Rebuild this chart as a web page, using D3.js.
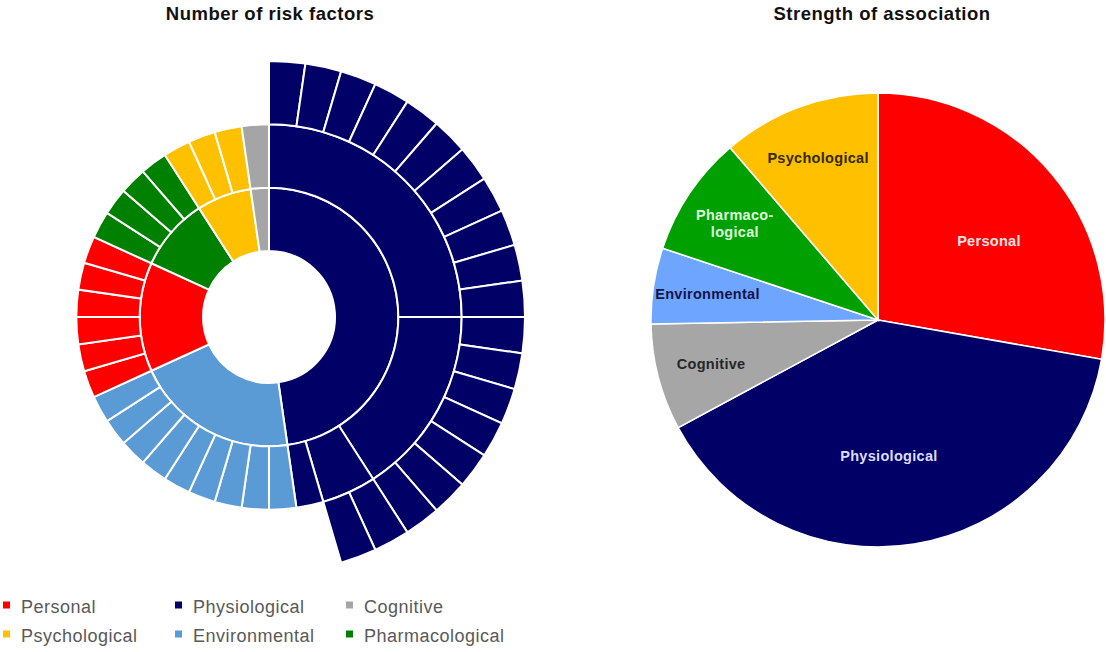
<!DOCTYPE html>
<html>
<head>
<meta charset="utf-8">
<style>
    body { margin: 0; background: #fff; }
    svg { display: block; font-family: Arial, 'Liberation Sans', sans-serif; }
    .title { font-size: 18.5px; font-weight: bold; fill: #111; letter-spacing: 0.5px; }
    .legend text { font-size: 18px; fill: #595959; letter-spacing: 0.5px; }
    .pie-label { font-size: 14.5px; font-weight: bold; letter-spacing: 0.3px; }
</style>
</head>
<body>
<svg width="1106" height="652"></svg>

<script src="https://d3js.org/d3.v7.min.js"></script>
<script>
    // --- data ---
    // sunburst, clockwise from 12 o'clock
    let categories = ["Physiological", "Environmental", "Personal", "Pharmacological", "Psychological", "Cognitive"];
    // sub-groups in the middle ring that break down further (number of factors in the outer ring)
    let subgroupFactors = [[11, 7, 2], [], [], [], [], []];
    // factors sitting directly in the middle ring
    let directFactors = [1, 9, 6, 4, 3, 1];

    // pie, clockwise from 12 o'clock (share of association, %)
    let pieCategories = ["Personal", "Physiological", "Cognitive", "Environmental", "Pharmacological", "Psychological"];
    let pieValues = [27.8, 39.4, 7.6, 5.4, 8.6, 11.3];
    let pieLabelLines = [["Personal"], ["Physiological"], ["Cognitive"], ["Environmental"], ["Pharmaco-", "logical"], ["Psychological"]];

    let legendOrder = ["Personal", "Physiological", "Cognitive", "Psychological", "Environmental", "Pharmacological"];

    // --- colours ---
    let color = d3.scaleOrdinal()
        .domain(["Personal", "Physiological", "Cognitive", "Psychological", "Environmental", "Pharmacological"])
        .range(["#ff0000", "#000066", "#a5a5a5", "#ffc000", "#5b9bd5", "#008000"]);

    let pieColor = d3.scaleOrdinal()
        .domain(pieCategories)
        .range(["#ff0000", "#000066", "#a6a6a6", "#6ea6ff", "#00a000", "#ffc000"]);

    let pieLabelColor = d3.scaleOrdinal()
        .domain(pieCategories)
        .range(["#ffe4e4", "#dedcff", "#262626", "#14144a", "#dcffdc", "#332a00"]);

    let svg = d3.select("svg");

    // --- left: sunburst ---
    let tree = {
        name: "root",
        children: categories.map((c, i) => ({
            name: c,
            children: subgroupFactors[i].map((n, j) => ({
                name: c + " group " + (j + 1),
                children: d3.range(n).map(k => ({ name: "factor", value: 1 }))
            })).concat(d3.range(directFactors[i]).map(k => ({ name: "factor", value: 1 })))
        }))
    };

    let root = d3.hierarchy(tree).sum(d => d.value || 0);
    d3.partition().size([2 * Math.PI, 4])(root);

    let radius = d3.scaleLinear().domain([1, 4]).range([66, 256]);

    let sunArc = d3.arc()
        .startAngle(d => d.x0)
        .endAngle(d => d.x1)
        .innerRadius(d => radius(d.y0))
        .outerRadius(d => radius(d.y1));

    let sun = svg.append("g")
        .attr("transform", "translate(269,317)");

    sun.selectAll("path")
        .data(root.descendants().filter(d => d.depth > 0))
        .join("path")
        .attr("d", sunArc)
        .attr("fill", d => {
            let top = d;
            while (top.depth > 1) top = top.parent;
            return color(top.data.name);
        })
        .attr("stroke", "#fff")
        .attr("stroke-width", 2);

    svg.append("text")
        .attr("class", "title")
        .attr("x", 270)
        .attr("y", 20)
        .attr("text-anchor", "middle")
        .text("Number of risk factors");

    // --- right: pie ---
    let R = 227;
    let pie = d3.pie().sort(null).value(d => d)(pieValues);

    let pieArc = d3.arc().innerRadius(0).outerRadius(R);

    let pg = svg.append("g")
        .attr("transform", "translate(878,320)");

    pg.selectAll("path")
        .data(pie)
        .join("path")
        .attr("d", pieArc)
        .attr("fill", (d, i) => pieColor(pieCategories[i]))
        .attr("stroke", "#fff")
        .attr("stroke-width", 1.5);

    pg.selectAll("text")
        .data(pie)
        .join("text")
        .attr("class", "pie-label")
        .attr("text-anchor", "middle")
        .attr("fill", (d, i) => pieLabelColor(pieCategories[i]))
        .each(function (d, i) {
            let big = d.endAngle - d.startAngle > Math.PI / 2;
            let r = big ? 0.6 * R : 0.76 * R;
            // the big slices' labels sit a little past the mid angle
            let shift = big ? 0.08 : 0;
            let c = d3.arc().innerRadius(r).outerRadius(r)
                .startAngle(d.startAngle + shift).endAngle(d.endAngle + shift).centroid();
            let lines = pieLabelLines[i];
            d3.select(this).selectAll("tspan")
                .data(lines)
                .join("tspan")
                .attr("x", c[0])
                .attr("y", (l, k) => c[1] + 5 + (k - (lines.length - 1) / 2) * 17)
                .text(l => l);
        });

    svg.append("text")
        .attr("class", "title")
        .attr("x", 882)
        .attr("y", 20)
        .attr("text-anchor", "middle")
        .text("Strength of association");

    // --- legend ---
    let legend = svg.append("g").attr("class", "legend");
    let cols = [3, 175, 346];
    let rows = [605, 634];

    let item = legend.selectAll("g")
        .data(legendOrder)
        .join("g")
        .attr("transform", (d, i) => `translate(${cols[i % 3]},${rows[Math.floor(i / 3)]})`);

    item.append("rect")
        .attr("x", 0)
        .attr("y", -3.5)
        .attr("width", 7)
        .attr("height", 7)
        .attr("fill", d => color(d));

    item.append("text")
        .attr("x", 18)
        .attr("y", 8)
        .text(d => d);
</script>
</body>
</html>
